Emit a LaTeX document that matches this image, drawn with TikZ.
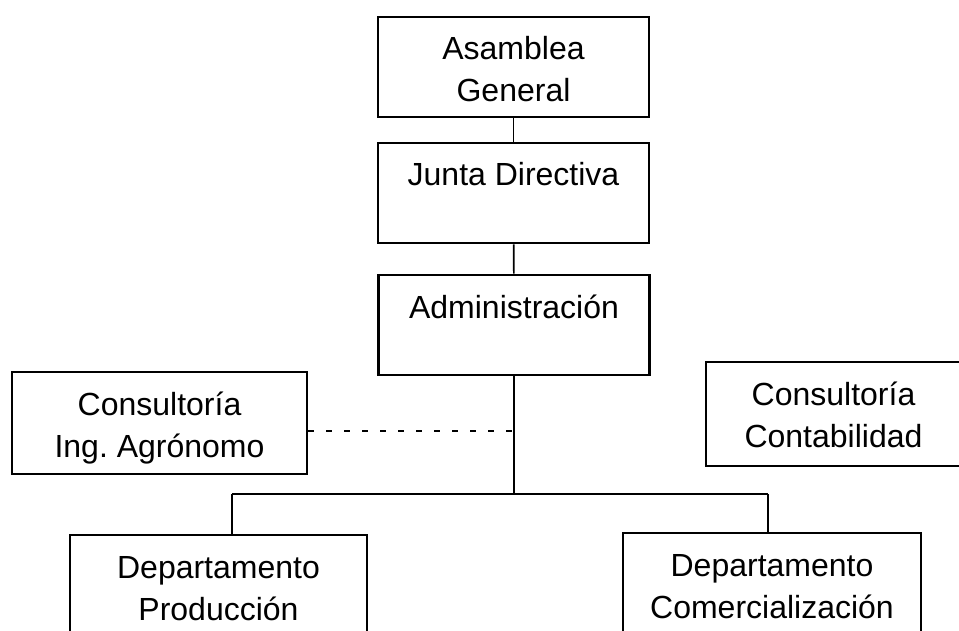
\documentclass[tikz,border=0pt]{standalone}
\usepackage{fontspec}
\setmainfont{Liberation Sans}
\usepackage{tikz}

\begin{document}
\begin{tikzpicture}[x=1pt, y=-1pt,
        caja/.style={draw, rectangle, line width=2.8pt, align=center,
            font=\fontsize{32}{42}\selectfont, inner xsep=0pt, inner ysep=0pt,
            text height=85pt, text depth=15pt},
        unalinea/.style={text height=43pt, text depth=57pt},
        enlace/.style={line width=1.6pt}]
        \clip (0,0) rectangle (959,631);
        \fill[white] (0,0) rectangle (959,631);

        \node[caja, minimum width=271pt] (asam) at (513.5,67) {Asamblea\\General};
        \node[caja, unalinea, minimum width=271pt] (junta) at (513.5,193) {Junta Directiva};
        \node[caja, unalinea, minimum width=271pt] (admin) at (514,325) {Administración};
        \node[caja, minimum width=295pt, text depth=17pt] (agro) at (159.5,423) {Consultoría\\Ing.\ Agrónomo};
        \node[caja, minimum width=255pt, text depth=19pt] (conta) at (833.5,414) {Consultoría\\Contabilidad};
        \node[caja, minimum width=297pt] (prod) at (218.5,585) {Departamento\\Producción};
        \node[caja, minimum width=298pt] (comer) at (772,583) {Departamento\\Comercialización};

        \coordinate (bus) at (514,494);
        \coordinate (busizq) at (232,494);
        \coordinate (busder) at (768,494);
        \coordinate (asesor) at (514,431);

        \draw[enlace] (asam) -- (junta);
        \draw[enlace] (junta) -- (admin);
        \draw[enlace] (admin) -- (bus);
        \draw[enlace] (busizq) -- (busder);
        \draw[enlace] (busizq) -- (busizq |- prod.north);
        \draw[enlace] (busder) -- (busder |- comer.north);
        \draw[enlace, dash pattern=on 6pt off 12pt] (agro.east |- asesor) -- (asesor);
    \end{tikzpicture}
\end{document}
